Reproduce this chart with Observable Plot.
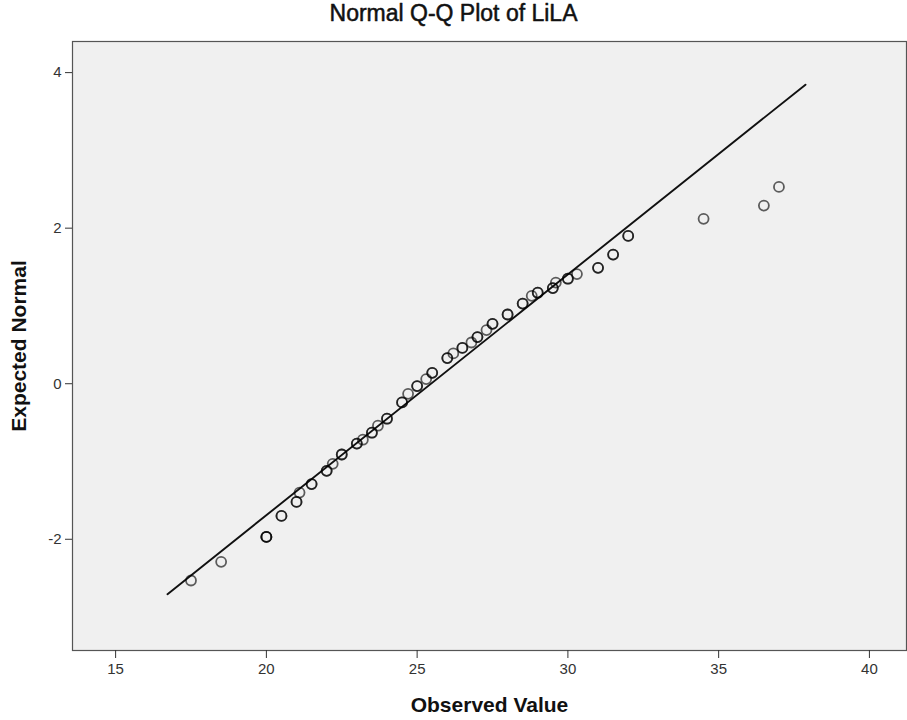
<!DOCTYPE html>
<html><head><meta charset="utf-8">
<script src="https://cdn.jsdelivr.net/npm/d3@7"></script>
<script src="https://cdn.jsdelivr.net/npm/@observablehq/plot@0.6"></script>
<style>
body{margin:0;background:#fff;}
#chart svg{font-family:"Liberation Sans",Arial,sans-serif;display:block;}
</style>
</head><body><div id="chart"></div>
<script>
const observed = [17.5,18.5,20.0,20.5,21.0,21.1,21.5,22.0,22.2,22.5,23.0,23.2,23.5,23.7,24.0,24.5,24.7,25.0,25.3,25.5,26.0,26.2,26.5,26.8,27.0,27.3,27.5,28.0,28.5,28.8,29.0,29.5,29.6,30.0,30.3,31.0,31.5,32.0,34.5,36.5,37.0];
const expected = [-2.53,-2.29,-1.97,-1.70,-1.52,-1.40,-1.29,-1.12,-1.03,-0.91,-0.77,-0.72,-0.63,-0.54,-0.45,-0.24,-0.13,-0.03,0.06,0.14,0.33,0.39,0.46,0.53,0.60,0.69,0.77,0.89,1.03,1.13,1.17,1.23,1.30,1.35,1.41,1.49,1.66,1.90,2.12,2.29,2.53];
// number of cases sharing each value (overlapping circles look darker)
const caseCount = [1,1,3,2,2,1,2,2,1,2,2,1,2,1,2,2,1,2,1,2,2,1,2,1,2,1,2,2,2,1,2,2,1,2,1,2,2,2,1,1,1];
const xTicks = [15,20,25,30,35,40];
const yTicks = [-2,0,2,4];
// reference line: normal with fitted mean and SD, drawn over this observed range
const fitMean = 25.46, fitSD = 3.23;
const lineExtent = [16.72, 37.88];

const rows = observed.flatMap((x,i)=>Array.from({length:caseCount[i]},()=>({x, y:expected[i]})));
const lineData = lineExtent.map(x=>({x, y:(x-fitMean)/fitSD}));

const chart = Plot.plot({
  width:907, height:720,
  marginLeft:72, marginRight:1, marginTop:41, marginBottom:70,
  x:{domain:[13.57,41.23]},
  y:{domain:[-3.43,4.40]},
  style:{background:"#fff", fontFamily:"'Liberation Sans',Arial,sans-serif"},
  marks:[
    Plot.frame({fill:"#f0f0f0"}),
    Plot.line(lineData,{x:"x",y:"y",stroke:"#111",strokeWidth:1.9}),
    Plot.dot(rows,{x:"x",y:"y",r:5,stroke:"#000",strokeOpacity:0.62,strokeWidth:1.8,fill:"none"}),
    Plot.frame({stroke:"#555",strokeWidth:1.2}),
    Plot.axisX({ticks:xTicks, tickSize:8, tickPadding:5, tickFormat:d=>String(d), fontSize:15, color:"#333", label:null}),
    Plot.axisY({ticks:yTicks, tickSize:7, tickPadding:4, tickFormat:d=>String(d), fontSize:15, color:"#333", label:null}),
    Plot.text(["Normal Q-Q Plot of LiLA"],{text:d=>d, frameAnchor:"top", textAnchor:"middle", lineAnchor:"middle", dx:-36, dy:-28, fontSize:23, fill:"#111", stroke:"#111", strokeWidth:0.5}),
    Plot.text(["Observed Value"],{text:d=>d, frameAnchor:"bottom", textAnchor:"middle", lineAnchor:"middle", dy:55, fontSize:21, fontWeight:"bold", fill:"#111"}),
    Plot.text(["Expected Normal"],{text:d=>d, frameAnchor:"left", textAnchor:"middle", lineAnchor:"middle", rotate:-90, dx:-53, fontSize:21, fontWeight:"bold", fill:"#111"})
  ]
});
document.getElementById("chart").appendChild(chart);
</script>
</body></html>
